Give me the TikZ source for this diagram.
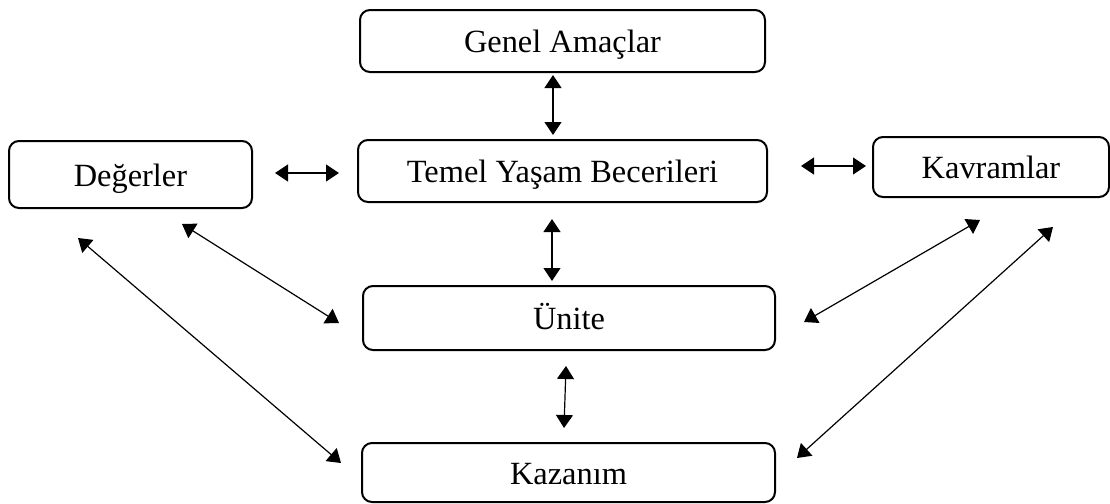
\documentclass[tikz,border=0pt]{standalone}
\usepackage{fontspec}
\setmainfont{Liberation Serif}
\usetikzlibrary{positioning, arrows.meta}

\begin{document}
\begin{tikzpicture}[x=0.5pt, y=0.5pt, on grid, >={Triangle[length=6.5pt,width=8.5pt]},
	kutu/.style={draw, rounded corners=5pt, line width=1pt, align=center, inner sep=0pt,
		text height=11.5pt, text depth=0pt, font=\fontsize{16.2}{18}\selectfont},
	ok/.style={<->, line width=0.6pt}]
			\useasboundingbox (0,0) rectangle (1110,-504);
			\node[kutu, minimum width=204.5pt, minimum height=31pt] (temel) at (562.5,-171) {Temel Yaşam Becerileri};
			\node[kutu, minimum width=202.5pt, minimum height=31pt, above=65pt of temel] (genel) {Genel Amaçlar};
			\node[kutu, minimum width=121.5pt, minimum height=33.5pt, left=216pt of temel, yshift=-1.75pt] (deger) {Değerler};
			\node[kutu, minimum width=118pt, minimum height=30pt, right=214.25pt of temel, yshift=2pt] (kavram) {Kavramlar};
			\node[kutu, minimum width=206pt, minimum height=32pt, below=73.5pt of temel, xshift=3.25pt] (unite) {Ünite};
			\node[kutu, minimum width=206.5pt, minimum height=29.5pt, below=77.25pt of unite, xshift=-0.25pt] (kazanim) {Kazanım};
			
			\draw[ok] ([shift={(-9.5,-2)}]genel.south) -- ([shift={(-9.5,4)}]temel.north);
			\draw[ok] ([shift={(22,1.5)}]deger.east) -- ([shift={(-18,-2)}]temel.west);
			\draw[ok] ([shift={(33,5)}]temel.east) -- ([shift={(-6,1)}]kavram.west);
			\draw[ok] ([shift={(-10.5,-16)}]temel.south) -- ([shift={(-17,4)}]unite.north);
			\draw[ok] ([shift={(-3,-15)}]unite.south) -- ([shift={(-4.5,14)}]kazanim.north);
			\draw[ok] ([shift={(51.5,-15)}]deger.south) -- ([shift={(-23,-5)}]unite.west);
			\draw[ok] ([shift={(-52.5,-29)}]deger.south) -- ([shift={(-20,9.5)}]kazanim.west);
			\draw[ok] ([shift={(-11,-22)}]kavram.south) -- ([shift={(28,-4)}]unite.east);
			\draw[ok] ([shift={(62,-29)}]kavram.south) -- ([shift={(21,14.5)}]kazanim.east);
		\end{tikzpicture}
\end{document}
